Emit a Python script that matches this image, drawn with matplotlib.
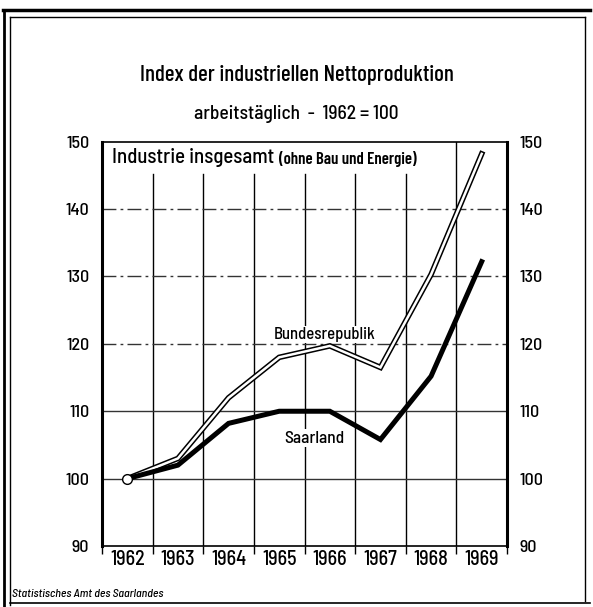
import numpy as np
from matplotlib import pyplot as plt
from matplotlib.lines import Line2D

years = [1962, 1963, 1964, 1965, 1966, 1967, 1968, 1969]
bundesrepublik = [100, 103, 112, 118, 119.7, 116.5, 130.3, 148.2]
saarland = [100, 102, 108.2, 110, 110, 105.8, 115.2, 132.2]
y_ticks = [90, 100, 110, 120, 130, 140, 150]

plt.rcParams['font.family'] = ['Barlow Semi Condensed', 'DejaVu Sans']
plt.rcParams['font.weight'] = 'medium'
narrow = ['Barlow Condensed', 'DejaVu Sans']

fig = plt.figure(figsize=(5.93, 6.07), dpi=100)
ax = fig.add_axes([0.172, 0.1005, 0.683, 0.666])

ax.set_xlim(years[0] - 0.5, years[-1] + 0.5)
ax.set_ylim(90, 150)

# grid
bounds = np.arange(years[0] + 0.5, years[-1], 1.0)
for b in bounds[:-1]:
    ax.plot([b, b], [90, 145.2], color='black', lw=1.0, zorder=1)
ax.plot([bounds[-1]] * 2, [90, 150], color='black', lw=1.0, zorder=1)
for v in y_ticks[1:-1]:
    ls = '-' if v <= 110 else (0, (10, 3, 2, 3))
    ax.axhline(v, color='#333333', lw=1.0, ls=ls, zorder=1)

# lines
ax.plot(years, bundesrepublik, color='black', lw=4.0, solid_joinstyle='miter', zorder=3)
ax.plot(years, bundesrepublik, color='white', lw=1.8, solid_joinstyle='miter', zorder=4)
ax.plot(years, saarland, color='black', lw=3.6, solid_joinstyle='miter', zorder=5)
ax.plot(years[0], 100, 'o', mfc='white', mec='black', ms=7, mew=1.0, zorder=6)

ax.text(1965.9, 121.4, 'Bundesrepublik', fontsize=12, ha='center', va='center',
        bbox=dict(facecolor='white', edgecolor='none', pad=1), zorder=2)
ax.text(1965.7, 106.0, 'Saarland', fontsize=12.5, ha='center', va='center',
        bbox=dict(facecolor='white', edgecolor='none', pad=1), zorder=2)
t1 = ax.text(1961.7, 147.6, 'Industrie insgesamt', fontsize=15, ha='left', va='center')
ax.annotate('(ohne Bau und Energie)', xy=(1, 0.45), xycoords=t1, xytext=(3, 0),
            textcoords='offset points', fontsize=12, ha='left', va='center',
            family=narrow, fontweight='semibold')

# axes
ax.set_yticks(y_ticks)
ax.set_yticklabels([str(v) for v in y_ticks], fontsize=13)
ax.tick_params(axis='y', length=0, pad=9, labelright=True)
ax.set_xticks(years)
ax.set_xticklabels([str(y) for y in years], fontsize=14.5)
ax.tick_params(axis='x', length=0, pad=3)
ax.set_xticks(list(bounds) + [years[0] - 0.5, years[-1] + 0.5], minor=True)
ax.tick_params(axis='x', which='minor', length=6, direction='out', width=1.0)
for s in ax.spines.values():
    s.set_linewidth(1.2)
ax.spines['left'].set_linewidth(2.2)
ax.spines['right'].set_linewidth(2.2)

fig.text(0.5, 0.876, 'Index der industriellen Nettoproduktion', fontsize=16.5,
         ha='center', va='center', family=narrow, fontweight='medium')
fig.text(0.5, 0.813, 'arbeitstäglich  -  1962 = 100', fontsize=14,
         ha='center', va='center')
fig.text(0.02, 0.013, 'Statistisches Amt des Saarlandes', fontsize=8.5,
         style='italic', ha='left', va='bottom')

# frame of the page
fig.add_artist(Line2D([0.005, 0.995], [0.983, 0.983], color='black', lw=2.5))
fig.add_artist(Line2D([0.017, 0.987], [0.972, 0.972], color='black', lw=1.0))
fig.add_artist(Line2D([0.006, 0.006], [0.0, 0.983], color='black', lw=2.0))
fig.add_artist(Line2D([0.017, 0.017], [0.004, 0.972], color='black', lw=1.0))
fig.add_artist(Line2D([0.987, 0.987], [0.01, 0.972], color='black', lw=1.0))
fig.add_artist(Line2D([0.017, 0.995], [0.006, 0.006], color='black', lw=1.2))

plt.savefig('out.png', dpi=100)
plt.close()
